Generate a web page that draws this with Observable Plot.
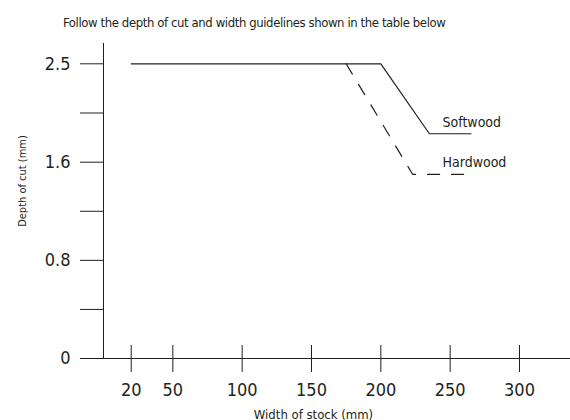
<!DOCTYPE html>
<html>
<head>
<meta charset="utf-8">
<script src="https://cdn.jsdelivr.net/npm/d3@7"></script>
<script src="https://cdn.jsdelivr.net/npm/@observablehq/plot@0.6"></script>
<style>
  html, body { margin: 0; padding: 0; background: #fff; }
  body { width: 570px; height: 420px; overflow: hidden; font-family: "Liberation Sans Narrow", "DejaVu Sans Condensed", "Roboto", sans-serif; color: #231f20; }
  #title { height: 40px; box-sizing: border-box; padding-top: 16px; padding-left: 63px; font-size: 13px; line-height: 13px; letter-spacing: -0.4px; white-space: nowrap; }
  #chart svg { display: block; }
</style>
</head>
<body>
<div id="title"></div>
<div id="chart"></div>
<script>
const titleText = "Follow the depth of cut and width guidelines shown in the table below";
const xTitle = "Width of stock (mm)";
const yTitle = "Depth of cut (mm)";

// axis ticks
const xTicks = [20, 50, 100, 150, 200, 250, 300];
const yTicks = [0, 0.4, 0.8, 1.2, 1.6, 2.05, 2.5];
const yTickLabels = [0, 0.8, 1.6, 2.5];

// series: width of stock (mm) vs depth of cut (mm)
const softW = [20, 200, 235, 265];
const softD = [2.5, 2.5, 1.86, 1.86];
const hardW = [175, 223, 262];
const hardD = [2.5, 1.5, 1.5];

// series labels
const labelNames = ["Softwood", "Hardwood"];
const labelW = [244.5, 244.5];
const labelD = [1.96, 1.6];

const softwood = softW.map((w, i) => ({w, d: softD[i]}));
const hardwood = hardW.map((w, i) => ({w, d: hardD[i]}));
const labels = labelNames.map((name, i) => ({name, w: labelW[i], d: labelD[i]}));

document.getElementById("title").textContent = titleText;

const ink = "#231f20";
const font = '"Liberation Sans Narrow", "DejaVu Sans Condensed", "Roboto", sans-serif';

const chart = Plot.plot({
  width: 570,
  height: 380,
  marginTop: 3,
  marginBottom: 62,
  marginLeft: 80,
  marginRight: 0,
  style: {fontFamily: font, color: ink, background: "#fff", overflow: "visible"},
  x: {domain: [0, 300], range: [103, 519]},
  y: {type: "linear", domain: [0, 1.6, 2.5], range: [318, 121.7, 23.3]},
  marks: [
    Plot.ruleY([0], {stroke: ink, strokeWidth: 1}),
    Plot.ruleX([0], {stroke: ink, strokeWidth: 1}),
    Plot.ruleY(yTicks, {y: d => d, x1: 0, x2: 0, insetRight: 23, stroke: ink, strokeWidth: 1}),
    Plot.ruleX(xTicks, {x: d => d, y1: 0, y2: 0, insetTop: 14, insetBottom: 13, stroke: ink, strokeWidth: 1}),
    Plot.axisY({ticks: yTickLabels, tickSize: 0, tickPadding: 10, fontSize: 18, label: null, tickFormat: d => String(d), fill: ink}),
    Plot.axisX({ticks: xTicks, tickSize: 0, tickPadding: 25, fontSize: 18, label: null, tickFormat: d => String(d), fill: ink}),
    Plot.line(softwood, {x: "w", y: "d", stroke: ink, strokeWidth: 1.2}),
    Plot.line(hardwood, {x: "w", y: "d", stroke: ink, strokeWidth: 1.2, strokeDasharray: "12,12"}),
    Plot.text(labels, {x: "w", y: "d", text: "name", textAnchor: "start", fontSize: 14, letterSpacing: "-0.3px", fill: ink}),
    Plot.text([xTitle], {frameAnchor: "bottom", text: d => d, textAnchor: "middle", dx: -12, dy: 60, fontSize: 13, letterSpacing: "-0.1px", fill: ink}),
    Plot.text([yTitle], {frameAnchor: "left", text: d => d, textAnchor: "middle", rotate: -90, dx: -58, dy: -20, fontSize: 11, letterSpacing: "-0.3px", fill: ink})
  ]
});
document.getElementById("chart").appendChild(chart);
</script>
</body>
</html>
